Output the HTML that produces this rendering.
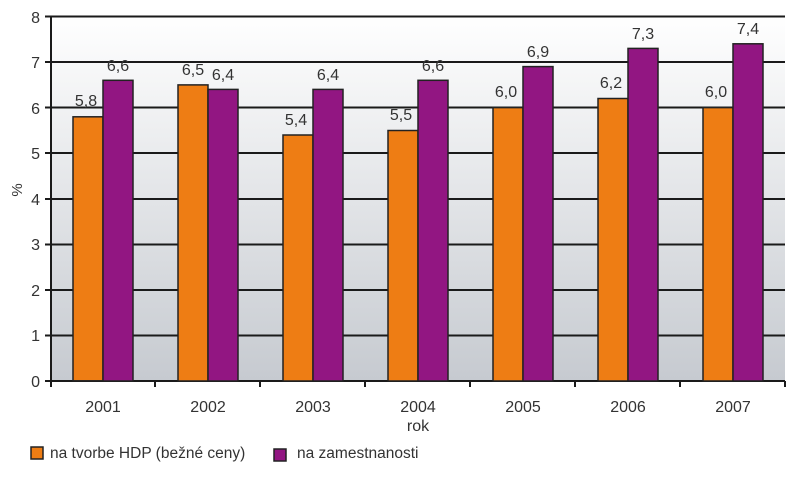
<!DOCTYPE html>
<html><head><style>body{margin:0;background:#fff}</style></head><body>
<svg width="800" height="473" xmlns="http://www.w3.org/2000/svg" font-family="Liberation Sans, sans-serif">
<defs><linearGradient id="g" x1="0" y1="0" x2="0" y2="1"><stop offset="0" stop-color="#ffffff"/><stop offset="1" stop-color="#c6cad0"/></linearGradient></defs>
<rect x="51" y="16" width="734" height="365" fill="url(#g)"/>
<g stroke="#1a1a1a" stroke-width="2">
<line x1="45" y1="16.5" x2="785" y2="16.5"/><line x1="45" y1="62" x2="785" y2="62"/><line x1="45" y1="107.5" x2="785" y2="107.5"/><line x1="45" y1="153" x2="785" y2="153"/><line x1="45" y1="199" x2="785" y2="199"/><line x1="45" y1="244.5" x2="785" y2="244.5"/><line x1="45" y1="290" x2="785" y2="290"/><line x1="45" y1="335.5" x2="785" y2="335.5"/><line x1="45" y1="381" x2="785" y2="381"/>
<line x1="51" y1="16" x2="51" y2="387"/>
<line x1="155" y1="381" x2="155" y2="387"/><line x1="260" y1="381" x2="260" y2="387"/><line x1="365" y1="381" x2="365" y2="387"/><line x1="470" y1="381" x2="470" y2="387"/><line x1="575" y1="381" x2="575" y2="387"/><line x1="680" y1="381" x2="680" y2="387"/><line x1="785" y1="381" x2="785" y2="387"/>
</g>
<g font-size="16" fill="#333" text-anchor="end">
<text x="40" y="23">8</text><text x="40" y="68">7</text><text x="40" y="114">6</text><text x="40" y="159">5</text><text x="40" y="205">4</text><text x="40" y="250">3</text><text x="40" y="296">2</text><text x="40" y="341">1</text><text x="40" y="387">0</text>
</g>
<text x="22" y="190" font-size="15" fill="#333" transform="rotate(-90 22 190)" text-anchor="middle">%</text>
<g stroke="#222" stroke-width="1.5">
<rect x="73" y="116.8" width="30" height="264" fill="#ee7d14"/><rect x="103" y="80.3" width="30" height="300.7" fill="#921682"/>
<rect x="178" y="84.9" width="30" height="296.1" fill="#ee7d14"/><rect x="208" y="89.4" width="30" height="291.6" fill="#921682"/>
<rect x="283" y="135" width="30" height="246" fill="#ee7d14"/><rect x="313" y="89.4" width="30" height="291.6" fill="#921682"/>
<rect x="388" y="130.5" width="30" height="250.5" fill="#ee7d14"/><rect x="418" y="80.3" width="30" height="300.7" fill="#921682"/>
<rect x="493" y="107.6" width="30" height="273.4" fill="#ee7d14"/><rect x="523" y="66.6" width="30" height="314.4" fill="#921682"/>
<rect x="598" y="98.5" width="30" height="282.5" fill="#ee7d14"/><rect x="628" y="48.4" width="30" height="332.6" fill="#921682"/>
<rect x="703" y="107.6" width="30" height="273.4" fill="#ee7d14"/><rect x="733" y="43.8" width="30" height="337.2" fill="#921682"/>
</g>
<g font-size="16" fill="#333" text-anchor="middle">
<text x="86" y="106">5,8</text><text x="118" y="71">6,6</text>
<text x="193" y="75">6,5</text><text x="223" y="80">6,4</text>
<text x="296" y="125">5,4</text><text x="328" y="80">6,4</text>
<text x="401" y="120">5,5</text><text x="433" y="71">6,6</text>
<text x="506" y="97">6,0</text><text x="538" y="57">6,9</text>
<text x="611" y="88">6,2</text><text x="643" y="39">7,3</text>
<text x="716" y="97">6,0</text><text x="748" y="34">7,4</text>
</g>
<g font-size="16" fill="#333" text-anchor="middle">
<text x="103" y="412">2001</text><text x="208" y="412">2002</text><text x="313" y="412">2003</text><text x="418" y="412">2004</text><text x="523" y="412">2005</text><text x="628" y="412">2006</text><text x="733" y="412">2007</text>
<text x="418" y="431">rok</text>
</g>
<rect x="31" y="447" width="12" height="12" fill="#ee7d14" stroke="#222" stroke-width="1.5"/>
<text x="50" y="458" font-size="15.5" fill="#333">na tvorbe HDP (bežné ceny)</text>
<rect x="274" y="449" width="12" height="12" fill="#921682" stroke="#222" stroke-width="1.5"/>
<text x="297" y="458" font-size="15.5" fill="#333">na zamestnanosti</text>
</svg>
</body></html>
